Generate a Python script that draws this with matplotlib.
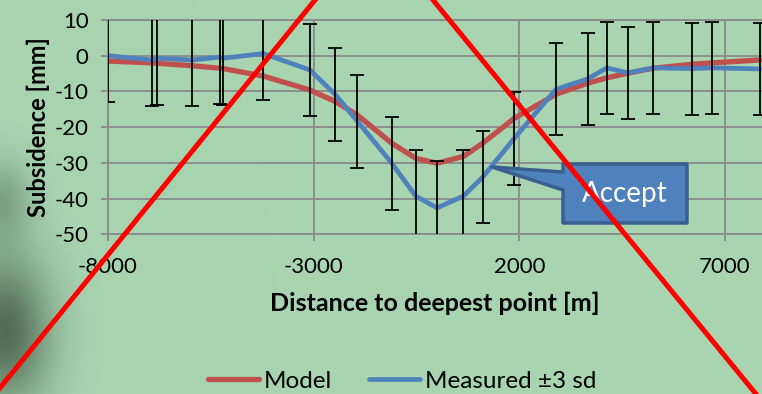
import numpy as np
import matplotlib
matplotlib.use("Agg")
import matplotlib.pyplot as plt
from matplotlib.lines import Line2D
from matplotlib.patches import Polygon

plt.rcParams['font.family'] = ['Lato', 'DejaVu Sans']
plt.rcParams['axes.unicode_minus'] = False

# distance to deepest point [m]
dist = [-8000, -6940, -6820, -5965, -5280, -5200, -4225, -3090, -2480, -1940,
        -1100, -520, 0, 640, 1110, 1880, 2890, 3660, 4125, 4635, 5255, 6190,
        6690, 7850]
# measured subsidence [mm]
measured = [0.0, -1.2, -0.7, -1.2, -0.4, -0.7, 0.6, -4.0, -10.8, -18.3,
            -30.1, -39.3, -42.6, -39.3, -34.0, -23.1, -9.4, -6.5, -3.4, -4.8,
            -3.4, -3.6, -3.4, -3.7]
# 3 standard deviations [mm]
sd3 = [13.0, 13.0, 13.0, 13.0, 13.2, 13.0, 13.0, 13.0, 13.0, 13.0,
       13.0, 13.0, 13.0, 13.0, 12.9, 13.0, 12.9, 12.9, 12.9, 12.9,
       12.9, 12.9, 12.9, 12.9]
# model subsidence [mm]
model = [-1.5, -2.0, -2.1, -2.8, -3.5, -3.6, -5.7, -9.6, -12.8, -16.6,
         -24.5, -28.7, -30.1, -28.2, -24.5, -17.5, -10.8, -7.7, -6.2, -4.9,
         -3.5, -2.4, -2.0, -1.2]

W, H = 762, 394
bg = np.array([168, 212, 176]) / 255.0


def px(x, y):
    return x / W, 1 - y / H


fig = plt.figure(figsize=(W / 100, H / 100), dpi=100, facecolor=bg)

# textured green background with the dark patch at bottom left
ax_bg = fig.add_axes([0, 0, 1, 1], zorder=-5)
yy, xx = np.mgrid[0:H, 0:W]
shade = 0.75 * np.exp(-((xx - 5) / 45.0) ** 2 - ((yy - 330) / 75.0) ** 2)
shade += 0.35 * np.exp(-((xx - 0) / 30.0) ** 2 - ((yy - 200) / 40.0) ** 2)
shade = np.clip(shade, 0, 0.8)
dark = np.array([55, 75, 55]) / 255.0
img = bg[None, None, :] * (1 - shade[..., None]) + dark[None, None, :] * shade[..., None]
ax_bg.imshow(img, aspect='auto', extent=[0, W, H, 0])
ax_bg.axis('off')

ax = fig.add_axes([108 / W, 1 - 234.3 / H, (W - 108) / W, (234.3 - 20) / H])
ax.set_facecolor('none')

grid_c = '#8a8a8a'
ax.plot(dist, model, color='#C0504D', lw=3.8, solid_capstyle='round', zorder=3,
        label='Model')
ax.plot(dist, measured, color='#4F81BD', lw=3.4, solid_capstyle='round', zorder=3,
        label='Measured \u00b13 sd')
ax.errorbar(dist, measured, yerr=sd3, fmt='none', ecolor='black', elinewidth=1.3,
            capsize=5, capthick=1.3, zorder=4)

ax.set_xlim(-8000, 7900)
ax.set_ylim(-50, 10)
ax.set_xticks([-8000, -3000, 2000, 7000])
ax.set_yticks(np.arange(-50, 11, 10))
ax.grid(True, color=grid_c, lw=1.3)
ax.set_axisbelow(True)
for s in ['left', 'bottom', 'top']:
    ax.spines[s].set_color(grid_c)
    ax.spines[s].set_linewidth(1.3)
ax.spines['right'].set_visible(False)
ax.tick_params(axis='both', colors=grid_c, labelcolor='black', labelsize=16,
               length=5, width=1.3)
ax.tick_params(axis='x', pad=11)
ax.tick_params(axis='y', pad=9)

ax.set_xlabel('Distance to deepest point [m]', fontsize=18, fontweight='bold',
              labelpad=11)
ax.set_ylabel('Subsidence [mm]', fontsize=17, fontweight='bold', labelpad=3)

fig.legend(loc='center', bbox_to_anchor=(402 / W, 1 - 381 / H), ncol=2,
           frameon=False, fontsize=17.5, handlelength=2.1, handletextpad=0.2,
           columnspacing=1.5)

# callout
pts = [px(563, 164), px(687, 164), px(687, 223), px(563, 223), px(563, 190),
       px(492, 167), px(563, 172)]
fig.add_artist(Polygon(pts, closed=True, transform=fig.transFigure,
                       facecolor='#4F81BD', edgecolor='#3A5F8E', lw=2.5,
                       joinstyle='round', zorder=6))
fig.text(*px(625, 194), 'Accept', color='white', fontsize=20,
         ha='center', va='center', zorder=7)

# red cross over the chart
for (x0, y0), (x1, y1) in [((-5, 394), (315, 0)), ((433, 0), (756, 394))]:
    fig.add_artist(Line2D(*zip(px(x0, y0), px(x1, y1)), transform=fig.transFigure,
                          color='#FF0000', lw=3.6, zorder=10))

fig.savefig('out.png', dpi=100, facecolor=bg)
